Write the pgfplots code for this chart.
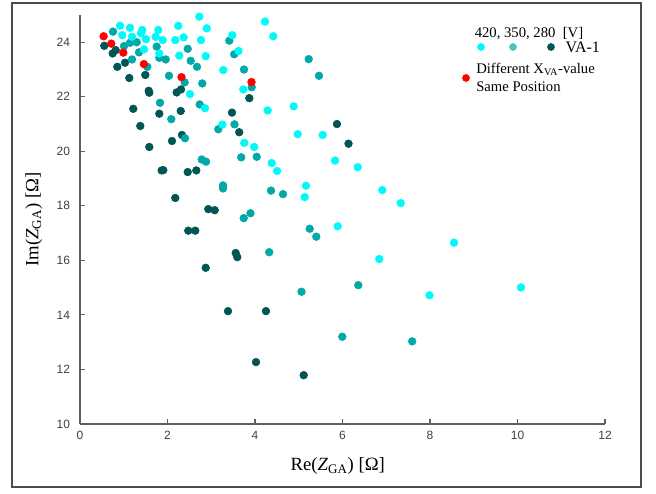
\documentclass[border=0pt]{standalone}
\usepackage{fontspec}
\setmainfont{Liberation Serif}
\setsansfont{Liberation Sans}
\usepackage{pgfplots}
\pgfplotsset{compat=1.18}

\definecolor{vhi}{RGB}{0,250,250}
\definecolor{vmid}{RGB}{0,168,168}
\definecolor{vlow}{RGB}{0,85,85}
\definecolor{vmidleg}{RGB}{77,196,196}
\definecolor{axgray}{RGB}{95,95,95}

\begin{document}
\begin{tikzpicture}
\useasboundingbox (-60pt,-51.75pt) rectangle (432pt,318pt);
\draw[line width=0.9pt, black!70] (-51pt,-47.25pt) rectangle (420.75pt,315.75pt);
\begin{axis}[
    at={(0pt,0pt)}, anchor=south west,
    scale only axis,
    width=393.75pt, height=306.75pt,
    xmin=0, xmax=12, ymin=10, ymax=25,
    axis lines=left,
    axis line style={-, axgray, line width=0.8pt},
    xtick={0,2,...,12},
    ytick={10,12,...,24},
    tick align=inside,
    major tick length=4pt,
    tick style={axgray, line width=0.8pt},
    ticklabel style={font=\sffamily\fontsize{9}{10}\selectfont, black!75},
    /pgf/number format/assume math mode=true,
    xticklabel style={yshift=-2pt},
    yticklabel style={xshift=-4pt},
    xlabel={Re(\textit{Z}\textsubscript{GA}) [Ω]},
    ylabel={Im(\textit{Z}\textsubscript{GA}) [Ω]},
    label style={font=\fontsize{14}{16}\selectfont},
    xlabel style={at={(axis description cs:0.491,-0.1027)}, anchor=center},
    ylabel style={at={(axis description cs:-0.088,0.5)}, anchor=center, rotate=0},
    every axis plot/.append style={only marks, mark=*, mark size=2.9pt},
]
% 280 V (dark)
\addplot[vlow, mark options={draw=vlow, fill=vlow}] coordinates {
(0.555,23.87) (0.816,23.71) (0.747,23.59) (1.029,23.25) (0.853,23.10)
(1.127,22.69) (1.493,22.80) (1.570,22.22) (1.584,22.15) (2.210,22.16)
(2.309,22.27) (1.218,21.56) (1.813,21.38) (2.302,21.48) (1.378,20.93)
(1.584,20.16) (2.103,20.38) (2.331,20.60) (3.474,21.42) (3.639,20.70)
(3.870,21.95) (5.874,21.00) (6.137,20.28) (1.867,19.30) (1.904,19.31)
(2.462,19.24) (2.658,19.30) (2.178,18.29) (2.933,17.88) (3.079,17.84)
(2.475,17.09) (2.635,17.09) (3.559,16.27) (3.595,16.12) (2.873,15.73)
(3.383,14.14) (4.251,14.14) (4.023,12.27) (5.113,11.79)
};
% 350 V (medium)
\addplot[vmid, mark options={draw=vmid, fill=vmid}] coordinates {
(0.754,24.39) (1.006,23.86) (1.143,23.98) (1.296,24.00) (1.349,23.63)
(1.189,23.37) (1.753,23.84) (1.813,23.43) (1.959,23.37) (2.462,23.76)
(2.530,23.32) (2.674,23.10) (1.538,23.10) (2.034,22.77) (2.393,22.53)
(2.795,22.49) (3.413,24.06) (3.525,23.56) (3.749,23.00) (3.925,22.35)
(1.829,21.78) (2.087,21.18) (2.736,21.72) (2.400,20.48) (3.161,20.81)
(3.531,20.99) (2.782,19.70) (2.880,19.62) (3.685,19.78) (4.039,19.80)
(5.227,23.38) (5.463,22.77) (3.269,18.75) (3.269,18.64) (3.742,17.55)
(3.897,17.73) (4.366,18.56) (4.640,18.43) (5.250,17.16) (5.401,16.87)
(4.325,16.30) (5.063,14.85) (6.361,15.09) (5.995,13.20) (7.593,13.03)
};
% 420 V (light)
\addplot[vhi, mark options={draw=vhi, fill=vhi}] coordinates {
(2.727,24.94) (4.229,24.76) (0.914,24.61) (1.143,24.53) (1.424,24.45)
(1.394,24.33) (1.790,24.45) (2.247,24.60) (2.896,24.51) (0.967,24.26)
(1.189,24.20) (1.509,24.11) (1.730,24.20) (1.890,24.08) (2.178,24.08)
(2.370,24.18) (2.766,24.08) (3.481,24.26) (3.623,23.68) (1.463,23.74)
(1.813,23.59) (2.270,23.51) (2.873,23.49) (3.275,22.98) (3.733,22.27)
(2.514,22.10) (2.857,21.58) (4.290,21.50) (3.253,20.98) (3.755,20.31)
(3.982,20.16) (4.418,24.22) (4.885,21.65) (4.976,20.63) (5.547,20.60)
(4.382,19.57) (5.829,19.66) (4.503,19.28) (5.166,18.74) (5.136,18.32)
(6.347,19.42) (6.910,18.58) (7.330,18.10) (5.890,17.25) (6.841,16.05)
(7.989,14.72) (8.549,16.65) (10.08,15.01)
};
% different X_VA, same position
\addplot[red, mark options={draw=red, fill=red}] coordinates {
(0.54,24.22) (0.715,23.95) (0.99,23.62) (1.46,23.20) (2.32,22.72) (3.92,22.54)
};
\end{axis}
% legend
\node[font=\fontsize{11}{12}\selectfont, anchor=center] at (336.75pt,292.5pt) {420, 350, 280~~[V]};
\fill[vhi] (300.75pt,282.75pt) circle (2.9pt);
\fill[vmidleg] (324.75pt,282.75pt) circle (2.9pt);
\fill[vlow] (353.25pt,282.75pt) circle (2.9pt);
\node[font=\fontsize{12}{13}\selectfont, anchor=west, inner sep=0pt] at (364pt,282.5pt) {VA-1};
\fill[red] (289.5pt,259.5pt) circle (2.9pt);
\node[font=\fontsize{11}{12}\selectfont, anchor=west, inner sep=0pt] at (297pt,266pt) {Different X\textsubscript{VA}-value};
\node[font=\fontsize{11}{12}\selectfont, anchor=west, inner sep=0pt] at (297pt,253pt) {Same Position};
\end{tikzpicture}
\end{document}
